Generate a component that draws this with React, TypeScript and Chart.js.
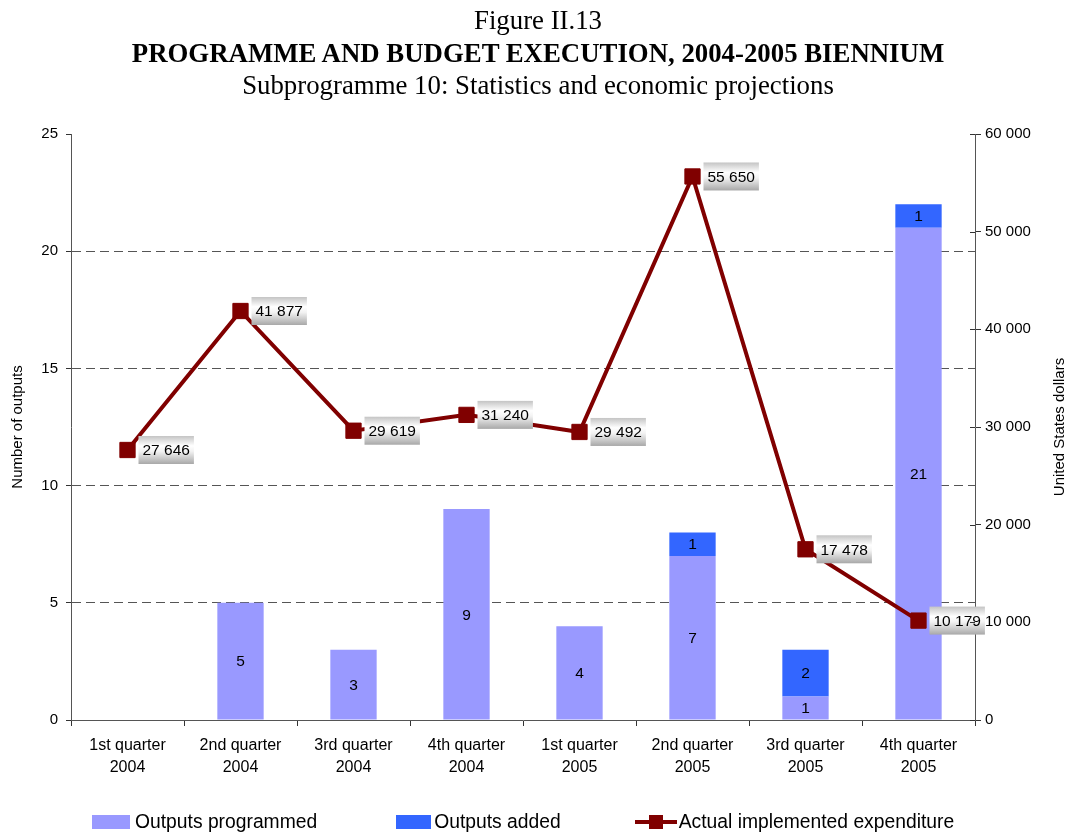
import React, { useEffect, useRef } from "react";
import { Chart, registerables } from "chart.js";

Chart.register(...registerables);

const quarters = ["1st quarter", "2nd quarter", "3rd quarter", "4th quarter", "1st quarter", "2nd quarter", "3rd quarter", "4th quarter"];
const years = ["2004", "2004", "2004", "2004", "2005", "2005", "2005", "2005"];
const outputsProgrammed = [0, 5, 3, 9, 4, 7, 1, 21];
const outputsAdded = [0, 0, 0, 0, 0, 1, 2, 1];
const expenditure = [27646, 41877, 29619, 31240, 29492, 55650, 17478, 10179];

const seriesNames = ["Outputs programmed", "Outputs added", "Actual implemented expenditure"];
const leftAxisTitle = "Number of outputs";
const rightAxisTitle = "United States dollars";

const PROG_COLOR = "#9999FF";
const ADDED_COLOR = "#3366FF";
const LINE_COLOR = "#800000";
const SANS = "'Liberation Sans', Arial, sans-serif";
const SERIF = "'Liberation Serif', 'Times New Roman', serif";

const fmt = (n: number) => String(n).replace(/\B(?=(\d{3})+(?!\d))/g, " ");

const labelPlugin = {
  id: "valueLabels",
  afterDatasetsDraw(chart: any) {
    const ctx = chart.ctx;
    ctx.save();
    ctx.font = `15.5px ${SANS}`;
    // bar segment labels
    [0, 1].forEach((di) => {
      const meta = chart.getDatasetMeta(di);
      meta.data.forEach((bar: any, i: number) => {
        const v = chart.data.datasets[di].data[i];
        if (!v) return;
        const { x, y, base } = bar.getProps(["x", "y", "base"], true);
        ctx.fillStyle = "#000";
        ctx.textAlign = "center";
        ctx.textBaseline = "middle";
        ctx.fillText(String(v), x, (y + base) / 2 + 1);
      });
    });
    // line labels in shaded boxes
    const lm = chart.getDatasetMeta(2);
    lm.data.forEach((pt: any, i: number) => {
      const v = chart.data.datasets[2].data[i];
      const text = fmt(v);
      ctx.font = `15.5px ${SANS}`;
      const w = ctx.measureText(text).width + 8;
      const h = 28;
      const bx = pt.x + 11;
      const by = pt.y - h / 2;
      const g = ctx.createLinearGradient(0, by, 0, by + h);
      g.addColorStop(0, "#c4c4c4");
      g.addColorStop(0.35, "#ffffff");
      g.addColorStop(0.55, "#f2f2f2");
      g.addColorStop(1, "#a8a8a8");
      ctx.fillStyle = g;
      ctx.fillRect(bx, by, w, h);
      ctx.fillStyle = "#000";
      ctx.textAlign = "left";
      ctx.textBaseline = "middle";
      ctx.fillText(text, bx + 4, pt.y + 1);
    });
    ctx.restore();
  },
  afterDraw(chart: any) {
    const ctx = chart.ctx;
    const y1 = chart.scales.y1;
    const area = chart.chartArea;
    ctx.save();
    // inner half of the crossing ticks on the right axis
    ctx.strokeStyle = "#333";
    ctx.lineWidth = 1;
    y1.ticks.forEach((t: any) => {
      const py = Math.round(y1.getPixelForValue(t.value)) + 0.5;
      ctx.beginPath();
      ctx.moveTo(area.right - 5, py);
      ctx.lineTo(area.right, py);
      ctx.stroke();
    });
    // right axis title, reading bottom to top
    ctx.font = `15px ${SANS}`;
    ctx.fillStyle = "#000";
    ctx.textAlign = "center";
    ctx.textBaseline = "middle";
    ctx.translate(chart.width - 10, (area.top + area.bottom) / 2);
    ctx.rotate(-Math.PI / 2);
    ctx.fillText(rightAxisTitle, 0, 0);
    ctx.restore();
  },
};

export default function App() {
  const ref = useRef<HTMLCanvasElement>(null);

  useEffect(() => {
    if (!ref.current) return;
    const labels = quarters.map((q, i) => [q, years[i]]);
    const chart = new Chart(ref.current, {
      type: "bar",
      data: {
        labels,
        datasets: [
          {
            type: "bar",
            label: seriesNames[0],
            data: outputsProgrammed,
            backgroundColor: PROG_COLOR,
            yAxisID: "y",
            barPercentage: 0.41,
            categoryPercentage: 1,
            order: 1,
          },
          {
            type: "bar",
            label: seriesNames[1],
            data: outputsAdded,
            backgroundColor: ADDED_COLOR,
            yAxisID: "y",
            barPercentage: 0.41,
            categoryPercentage: 1,
            order: 1,
          },
          {
            type: "line",
            label: seriesNames[2],
            data: expenditure,
            borderColor: LINE_COLOR,
            backgroundColor: LINE_COLOR,
            borderWidth: 4,
            pointStyle: "rect",
            pointRadius: 10.8,
            pointBorderWidth: 1,
            pointBackgroundColor: LINE_COLOR,
            pointBorderColor: LINE_COLOR,
            yAxisID: "y1",
            tension: 0,
            order: 0,
          } as any,
        ],
      },
      options: {
        responsive: false,
        maintainAspectRatio: false,
        animation: false,
        layout: { padding: { top: 134, left: 0, right: 0, bottom: 0 } },
        plugins: {
          legend: { display: false },
          title: { display: false },
          tooltip: { enabled: false },
        },
        scales: {
          x: {
            stacked: true,
            offset: true,
            grid: {
              display: true,
              drawOnChartArea: false,
              offset: true,
              tickLength: 6,
              color: "#333",
            },
            border: { color: "#555" },
            ticks: {
              color: "#000",
              font: { family: SANS, size: 16, lineHeight: 1.4 },
              padding: 8,
              maxRotation: 0,
              autoSkip: false,
            },
            afterFit: (s: any) => {
              s.height = 113;
            },
          },
          y: {
            position: "left",
            stacked: true,
            min: 0,
            max: 25,
            ticks: {
              stepSize: 5,
              color: "#000",
              font: { family: SANS, size: 15 },
              padding: 8,
            },
            grid: {
              color: (c: any) => (c.tick && (c.tick.value === 0 || c.tick.value === 25) ? "rgba(0,0,0,0)" : "#555"),
              tickColor: "#333",
              tickLength: 5,
              tickBorderDash: [],
            },
            border: { color: "#555", dash: [9, 5] },
            title: {
              display: true,
              text: leftAxisTitle,
              color: "#000",
              font: { family: SANS, size: 15 },
              padding: { top: 9, bottom: 0 },
            },
            afterFit: (s: any) => {
              s.width = 71;
            },
          },
          y1: {
            position: "right",
            min: 0,
            max: 60000,
            ticks: {
              stepSize: 10000,
              color: "#000",
              font: { family: SANS, size: 15 },
              padding: 4,
              callback: (v: any) => fmt(Number(v)),
            },
            grid: {
              drawOnChartArea: false,
              tickLength: 6,
              color: "#333",
            },
            border: { color: "#555" },
            afterFit: (s: any) => {
              s.width = 95;
            },
          },
        },
      } as any,
      plugins: [labelPlugin],
    });
    return () => chart.destroy();
  }, []);

  return (
    <div style={{ position: "absolute", left: 0, top: 0, width: 1070, height: 833, background: "#fff", overflow: "hidden" }}>
      <canvas ref={ref} width={1070} height={833} style={{ position: "absolute", left: 0, top: 0 }} />
      <div
        style={{
          position: "absolute",
          left: 3,
          top: 4,
          width: 1070,
          textAlign: "center",
          fontFamily: SERIF,
          fontSize: 26.8,
          lineHeight: "32.5px",
          color: "#000",
        }}
      >
        <div>Figure II.13</div>
        <div style={{ fontWeight: "bold" }}>PROGRAMME AND BUDGET EXECUTION, 2004-2005 BIENNIUM</div>
        <div>Subprogramme 10: Statistics and economic projections</div>
      </div>
      <div
        style={{
          position: "absolute",
          left: 92,
          top: 812,
          height: 20,
          display: "flex",
          alignItems: "center",
          fontFamily: SANS,
          fontSize: 19.3,
          lineHeight: "20px",
          whiteSpace: "nowrap",
          color: "#000",
        }}
      >
        <span style={{ display: "inline-block", width: 38, height: 14, background: PROG_COLOR }} />
        <span style={{ marginLeft: 5, marginRight: 79 }}>{seriesNames[0]}</span>
        <span style={{ display: "inline-block", width: 35, height: 14, background: ADDED_COLOR }} />
        <span style={{ marginLeft: 3, marginRight: 74 }}>{seriesNames[1]}</span>
        <span style={{ display: "inline-block", position: "relative", width: 42, height: 16 }}>
          <span style={{ position: "absolute", left: 0, top: 6, width: 42, height: 4, background: LINE_COLOR }} />
          <span style={{ position: "absolute", left: 14, top: 1, width: 14, height: 14, background: LINE_COLOR }} />
        </span>
        <span style={{ marginLeft: 2 }}>{seriesNames[2]}</span>
      </div>
    </div>
  );
}
